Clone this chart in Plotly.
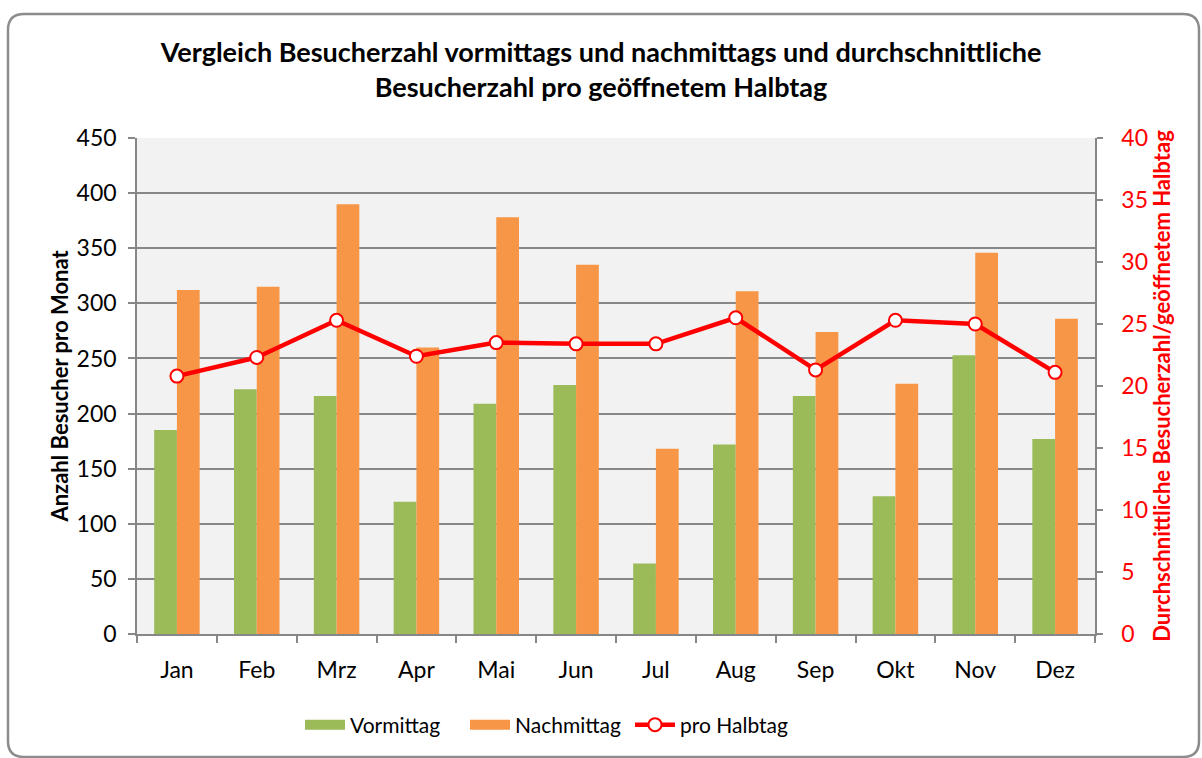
import plotly.graph_objects as go

months = ["Jan", "Feb", "Mrz", "Apr", "Mai", "Jun", "Jul", "Aug", "Sep", "Okt", "Nov", "Dez"]
vormittag = [185, 222, 216, 120, 209, 226, 64, 172, 216, 125, 253, 177]
nachmittag = [312, 315, 390, 260, 378, 335, 168, 311, 274, 227, 346, 286]
pro_halbtag = [20.8, 22.3, 25.3, 22.4, 23.5, 23.4, 23.4, 25.5, 21.3, 25.3, 25.0, 21.1]

W, H = 1202, 758
L, R, T, B = 137, 1095, 138, 634
FONT = "Lato, Carlito, Calibri, sans-serif"
GRID = "#878787"
GREEN, ORANGE, RED = "#9bbb59", "#f79646", "#ff0000"

fig = go.Figure()
fig.add_trace(go.Bar(x=months, y=vormittag, name="Vormittag", showlegend=False,
                     marker=dict(color=GREEN, line=dict(width=0))))
fig.add_trace(go.Bar(x=months, y=nachmittag, name="Nachmittag", showlegend=False,
                     marker=dict(color=ORANGE, line=dict(width=0))))
fig.add_trace(go.Scatter(x=months, y=pro_halbtag, name="pro Halbtag", yaxis="y2", mode="lines+markers",
                         showlegend=False,
                         line=dict(color=RED, width=4.5),
                         marker=dict(symbol="circle", size=13, color="white", line=dict(color=RED, width=2))))
# legend entries (swatches as wide rectangles like the original)
fig.add_trace(go.Scatter(x=[None], y=[None], name="Vormittag", mode="lines", line=dict(color=GREEN, width=14)))
fig.add_trace(go.Scatter(x=[None], y=[None], name="Nachmittag", mode="lines", line=dict(color=ORANGE, width=14)))
fig.add_trace(go.Scatter(x=[None], y=[None], name="pro Halbtag", mode="lines+markers", yaxis="y2",
                         line=dict(color=RED, width=4.5),
                         marker=dict(symbol="circle", size=13, color="white", line=dict(color=RED, width=2))))


def px2paper(x, y):
    return (x - L) / (R - L), (B - y) / (B - T)


def rounded_rect(x0, y0, x1, y1, r):
    def p(x, y):
        a, b = px2paper(x, y)
        return f"{a:.5f},{b:.5f}"
    d = f"M {p(x0 + r, y0)} L {p(x1 - r, y0)} Q {p(x1, y0)} {p(x1, y0 + r)} "
    d += f"L {p(x1, y1 - r)} Q {p(x1, y1)} {p(x1 - r, y1)} "
    d += f"L {p(x0 + r, y1)} Q {p(x0, y1)} {p(x0, y1 - r)} "
    d += f"L {p(x0, y0 + r)} Q {p(x0, y0)} {p(x0 + r, y0)} Z"
    return d


fig.add_shape(type="path", xref="paper", yref="paper", path=rounded_rect(8, 14, 1199, 757, 16),
              line=dict(color="#8c8c8c", width=2.5), fillcolor="rgba(0,0,0,0)", layer="above")

fig.update_layout(
    width=W, height=H,
    margin=dict(l=L, r=W - R, t=T, b=H - B, pad=0, autoexpand=False),
    paper_bgcolor="white", plot_bgcolor="#f2f2f2",
    font=dict(family=FONT, size=20, color="black"),
    title=dict(text="<b>Vergleich Besucherzahl vormittags und nachmittags und durchschnittliche<br>Besucherzahl pro geöffnetem Halbtag</b>",
               x=0.5, xanchor="center", y=1 - 62 / H, yanchor="middle", font=dict(size=27, family=FONT)),
    barmode="group", bargap=0.43, bargroupgap=0,
    xaxis=dict(type="category", range=[-0.5, 11.5], autorange=False, automargin=False,
               showgrid=False, showline=True, linecolor=GRID, linewidth=1.5,
               ticks="outside", tickson="boundaries", ticklen=7, tickcolor=GRID, tickwidth=1.5,
               tickfont=dict(size=23), ticklabelstandoff=15),
    yaxis=dict(range=[0, 450], dtick=50, showgrid=True, gridcolor=GRID, gridwidth=1.5, automargin=False,
               showline=True, linecolor=GRID, linewidth=1.5, ticks="outside", ticklen=7,
               tickcolor=GRID, tickwidth=1.5, zeroline=False, tickfont=dict(size=23), ticklabelstandoff=7,
               title=dict(text="<b>Anzahl Besucher pro Monat</b>", font=dict(size=22), standoff=2)),
    yaxis2=dict(range=[0, 40], dtick=5, overlaying="y", side="right", showgrid=False, showline=True,
                automargin=False,
                linecolor=GRID, linewidth=1.5, ticks="outside", ticklen=6, tickcolor=GRID, tickwidth=1.5,
                zeroline=False, tickfont=dict(size=23, color=RED), ticklabelstandoff=14,
                title=dict(text="<b>Durchschnittliche Besucherzahl/geöffnetem Halbtag</b>",
                           font=dict(size=22, color=RED), standoff=5)),
    legend=dict(orientation="h", x=(306 - L - 6) / (R - L), xanchor="left", y=(B - 725) / (B - T), yanchor="middle",
                font=dict(size=21), itemwidth=40, entrywidth=110, traceorder="normal", bgcolor="rgba(0,0,0,0)"),
    showlegend=True,
)

fig.write_html("out.html", config={"displayModeBar": False},
               post_script="document.body.style.margin='0px';")
